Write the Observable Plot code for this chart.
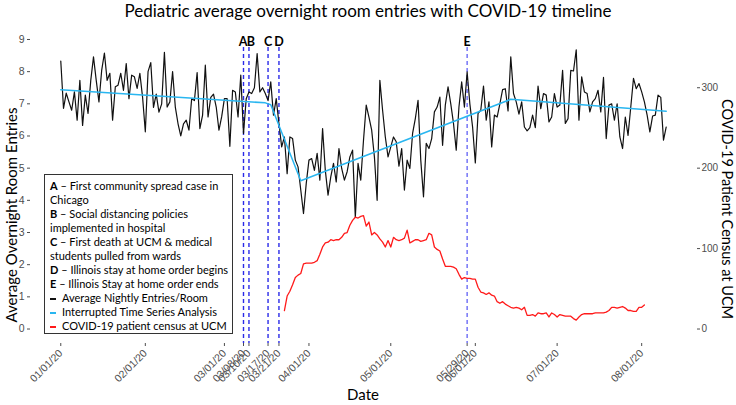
<!DOCTYPE html>
<html><head><meta charset="utf-8">
<script src="https://cdn.jsdelivr.net/npm/d3@7"></script>
<script src="https://cdn.jsdelivr.net/npm/@observablehq/plot@0.6"></script>
<style>
body{margin:0;background:#fff;}
#wrap{position:relative;width:736px;height:405px;overflow:hidden;font-family:Lato,sans-serif;color:#000;}
#title{position:absolute;left:0;top:1px;width:736px;text-align:center;font-size:17px;line-height:20px;white-space:nowrap;}
.ytitle{position:absolute;white-space:nowrap;font-size:15px;line-height:16px;}
#ylab{left:11px;top:215px;transform:translate(-50%,-50%) rotate(-90deg);}
#ylab2{left:727px;top:209px;font-size:14.5px;transform:translate(-50%,-50%) rotate(90deg);}
#xlab{position:absolute;left:363px;top:386px;transform:translateX(-50%);font-size:15px;line-height:16px;}
#legend{position:absolute;left:44px;top:174px;width:177px;height:150px;border:1px solid #333;background:#fff;font-size:11px;line-height:14px;padding:4px 5px 4px 5px;white-space:nowrap;}
.sym{display:inline-block;width:12px;}
.sym i{display:inline-block;width:6px;height:1.6px;margin-left:0px;vertical-align:middle;}
</style></head>
<body><div id="wrap"><div id="chart"></div>
<div id="title">Pediatric average overnight room entries with COVID-19 timeline</div>
<div class="ytitle" id="ylab">Average Overnight Room Entries</div>
<div class="ytitle" id="ylab2">COVID-19 Patient Census at UCM</div>
<div id="xlab">Date</div>
<div id="legend"></div>
</div>
<script>
// ---- data ----
const entriesStart = [2020, 0, 1];
const entries = [
8.33,6.86,7.33,7.06,6.8,7.37,6.49,7.73,6.33,7.27,
6.7,7.73,8.46,7.73,7.06,8.04,8.58,7.73,7.95,6.49,
7.53,7.58,7.95,7.42,8.25,7.16,7.89,7.84,7.48,7.95,
7.2,6.13,8.0,8.28,6.89,7.3,6.74,7.0,8.6,6.9,
7.06,8.0,6.9,6.38,6.0,6.38,6.49,6.18,7.16,7.1,
7.97,6.23,6.65,8.2,6.59,7.2,7.3,6.9,6.18,6.6,
7.16,7.16,5.68,7.42,7.37,6.59,7.89,6.08,7.16,7.37,
7.32,7.5,8.56,7.37,7.5,7.32,7.1,7.68,6.65,7.16,
6.38,5.66,5.97,4.83,5.97,5.92,5.25,5.04,4.32,3.59,
4.52,5.25,5.3,4.93,5.46,4.63,6.23,4.93,4.16,4.73,
5.15,4.57,5.61,4.99,4.63,4.89,5.35,5.56,3.47,5.15,
4.63,5.87,6.96,6.59,6.18,5.35,4.0,7.73,
6.8,5.97,5.35,5.66,5.97,5.82,5.06,5.61,4.32,5.25,
4.99,6.08,6.54,7.11,5.25,4.11,5.77,5.61,5.92,6.75,
6.9,7.21,5.71,6.96,7.53,7.0,6.39,5.56,6.9,7.68,
6.9,7.99,7.0,6.28,5.16,6.7,6.8,7.55,6.49,7.06,
5.66,6.65,6.59,7.0,7.44,7.47,6.78,8.46,7.32,7.06,
6.68,7.06,6.28,6.16,6.26,6.65,6.26,7.55,6.85,
7.32,7.27,6.44,6.59,7.32,6.9,6.96,8.04,6.39,6.54,
8.04,8.02,8.68,6.49,7.84,7.37,7.32,6.75,7.06,7.16,
7.42,6.75,7.82,5.92,6.96,7.0,6.49,7.0,5.97,5.61,
6.59,6.02,6.9,7.79,7.47,7.63,7.37,7.06,6.65,6.13,
6.62,6.65,7.27,7.2,5.87,6.28
];
const censusStart = [2020, 2, 23];
const census = [
23,41,47,55,64,67,69,81,82,82,
82,83,85,93,102,107,108,111,110,111,
111,114,119,120,129,135,139,138,140,141,
128,133,117,120,117,112,108,102,110,102,
114,111,110,111,113,123,107,109,111,111,
109,110,111,119,117,102,99,97,87,78,
78,78,77,75,68,62,64,63,63,62,
62,52,46,45,43,45,42,41,34,32,
34,31,29,27,26,27,26,24,27,17,
17,18,16,20,19,19,20,15,20,18,
15,18,17,16,16,16,13,11,15,18,
19,19,19,19,20,20,20,20,21,23,
27,27,26,27,28,26,23,23,22,22,
27,27,30
];
const itsDates = ["2020-01-01","2020-03-16","2020-03-18","2020-03-29","2020-06-14","2020-08-10"];
const itsValues = [7.44, 7.03, 6.97, 4.61, 7.14, 6.77];
const eventLetters = ["A","B","C","D","E"];
const eventDates = ["2020-03-08","2020-03-10","2020-03-17","2020-03-21","2020-05-29"];
const tickDates = ["2020-01-01","2020-02-01","2020-03-01","2020-03-08","2020-03-10","2020-03-17","2020-03-21","2020-04-01","2020-05-01","2020-05-29","2020-06-01","2020-07-01","2020-08-01"];
const leftTicks = [0,1,2,3,4,5,6,7,8,9];
const rightTicks = [0,100,200,300];
const censusPerUnit = 40; // secondary axis factor
const legendItems = [
  {key:"A", text:"First community spread case in", cont:"Chicago"},
  {key:"B", text:"Social distancing policies", cont:"implemented in hospital"},
  {key:"C", text:"First death at UCM &amp; medical", cont:"students pulled from wards"},
  {key:"D", text:"Illinois stay at home order begins"},
  {key:"E", text:"Illinois Stay at home order ends"}
];
const legendLines = [
  {color:"#111", text:"Average Nightly Entries/Room"},
  {color:"#29b6f0", text:"Interrupted Time Series Analysis"},
  {color:"#ff1a1a", text:"COVID-19 patient census at UCM"}
];

// ---- build tables ----
const parse = d3.utcParse("%Y-%m-%d");
const entryRows = entries.map((v,i)=>({date:new Date(Date.UTC(entriesStart[0],entriesStart[1],entriesStart[2]+i)), v}));
const censusRows = census.map((v,i)=>({date:new Date(Date.UTC(censusStart[0],censusStart[1],censusStart[2]+i)), v:v/censusPerUnit}));
const itsRows = itsDates.map((d,i)=>({date:parse(d), v:itsValues[i]}));
const events = eventLetters.map((l,i)=>({l, date:parse(eventDates[i])}));
const first = entryRows[0].date, last = entryRows[entryRows.length-1].date;
const pad = (last-first)*0.05;

const fmt = d3.utcFormat("%m/%d/%y");
const plot = Plot.plot({
  width:736, height:405,
  marginLeft:30, marginRight:40, marginTop:24.5, marginBottom:62,
  style:{fontFamily:"'Liberation Sans', Arial, sans-serif", fontSize:"10px", background:"#fff"},
  x:{type:"utc", domain:[new Date(+first-pad), new Date(+last+pad)]},
  y:{domain:[-0.45, 9.45]},
  marks:[
    Plot.axisX(tickDates.map(parse), {tickFormat:fmt, tickRotate:-45, tickSize:3, tickPadding:5, color:"#4d4d4d", label:null, fontSize:10.5}),
    Plot.axisX({ticks:[], tickSize:0, line:true, stroke:"#222", label:null}),
    Plot.axisY(leftTicks, {anchor:"left", tickSize:3, tickPadding:3, color:"#4d4d4d", label:null, fontSize:10.5}),
    Plot.axisY({anchor:"left", ticks:[], tickSize:0, line:true, stroke:"#222", label:null}),
    Plot.axisY(rightTicks.map(v=>v/censusPerUnit), {anchor:"right", tickFormat:d=>String(Math.round(d*censusPerUnit)), tickSize:3, tickPadding:2, color:"#4d4d4d", label:null, fontSize:10}),
    Plot.axisY({anchor:"right", ticks:[], tickSize:0, line:true, stroke:"#222", label:null}),
    Plot.ruleX(events.filter(e=>e.l!=="E"), {x:"date", y1:8.75, y2:-0.45, stroke:"#2a2ae8", strokeWidth:1.4, strokeDasharray:"4,3"}),
    Plot.ruleX(events.filter(e=>e.l==="E"), {x:"date", y1:8.75, y2:-0.45, stroke:"#6b6bf6", strokeWidth:1.4, strokeDasharray:"4,3"}),
    Plot.line(entryRows, {x:"date", y:"v", stroke:"#111", strokeWidth:1.2}),
    Plot.line(itsRows, {x:"date", y:"v", stroke:"#29b6f0", strokeWidth:1.5}),
    Plot.line(censusRows, {x:"date", y:"v", stroke:"#ff1a1a", strokeWidth:1.3}),
    Plot.text(events.filter(e=>e.l==="A"), {x:"date", text:"l", frameAnchor:"top", dy:12, dx:-0.5, fontWeight:"bold", fontSize:12.5, fontFamily:"Lato", fill:"#000"}),
    Plot.text(events.filter(e=>e.l==="B"), {x:"date", text:"l", frameAnchor:"top", dy:12, dx:2, fontWeight:"bold", fontSize:12.5, fontFamily:"Lato", fill:"#000"}),
    Plot.text(events.filter(e=>e.l==="C"||e.l==="D"||e.l==="E"), {x:"date", text:"l", frameAnchor:"top", dy:12, fontWeight:"bold", fontSize:12.5, fontFamily:"Lato", fill:"#000"})
  ]
});
document.getElementById("chart").appendChild(plot);

const lg = document.getElementById("legend");
let html = "";
for (const it of legendItems) {
  html += `<div><b>${it.key}</b> – ${it.text}</div>`;
  if (it.cont) html += `<div>${it.cont}</div>`;
}
for (const ln of legendLines) {
  html += `<div><span class="sym"><i style="background:${ln.color}"></i></span>${ln.text}</div>`;
}
lg.innerHTML = html;
</script>
</body></html>
